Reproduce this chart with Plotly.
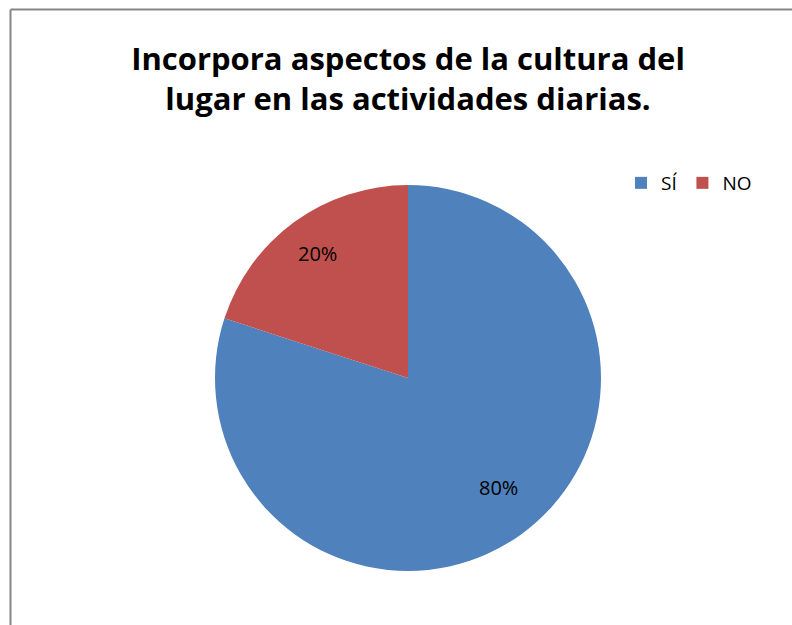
import math
import plotly.graph_objects as go

# Data
labels = ["SÍ", "NO"]
values = [80, 20]
colors = ["#4F81BD", "#C0504D"]

W, H = 792, 625
# pie placement (pixels)
cx, cy, r = 408, 378, 193

fig = go.Figure()

fig.add_trace(go.Pie(
    labels=labels,
    values=values,
    marker=dict(colors=colors, line=dict(color="white", width=0)),
    sort=False,
    direction="clockwise",
    rotation=0,
    textinfo="none",
    domain=dict(x=[(cx - r) / W, (cx + r) / W], y=[(H - cy - r) / H, (H - cy + r) / H]),
    hoverinfo="label+percent",
))

# percent labels placed at 0.8 of the radius, at each slice's mid angle
total = sum(values)
annotations = []
cum = 0
for v in values:
    theta = 2 * math.pi * (cum + v / 2) / total
    px = cx + 0.8 * r * math.sin(theta)
    py = cy - 0.8 * r * math.cos(theta)
    annotations.append(dict(
        x=px / W, y=(H - py) / H, xref="paper", yref="paper",
        text=f"{round(100 * v / total)}%", showarrow=False,
        font=dict(family="Open Sans", size=20, color="black"),
    ))
    cum += v

fig.update_layout(
    width=W,
    height=H,
    margin=dict(l=0, r=0, t=0, b=0),
    paper_bgcolor="white",
    plot_bgcolor="white",
    title=dict(
        text="Incorpora aspectos de la cultura del<br>lugar en las actividades diarias.",
        x=408 / W,
        xanchor="center",
        y=(H - 70) / H,
        yanchor="middle",
        font=dict(family="Open Sans", size=31, color="black", weight="bold"),
    ),
    legend=dict(
        orientation="h",
        x=621 / W,
        xanchor="left",
        y=(H - 183) / H,
        yanchor="middle",
        font=dict(family="Open Sans", size=19, color="black"),
        bgcolor="rgba(0,0,0,0)",
        itemwidth=30,
        tracegroupgap=0,
    ),
    annotations=annotations,
    shapes=[
        dict(type="line", xref="paper", yref="paper",
             x0=10.5 / W, x1=10.5 / W, y0=0, y1=(H - 9.5) / H,
             line=dict(color="#868686", width=2)),
        dict(type="line", xref="paper", yref="paper",
             x0=10.5 / W, x1=1, y0=(H - 9.5) / H, y1=(H - 9.5) / H,
             line=dict(color="#868686", width=2)),
    ],
)

fig.write_html(
    "out.html",
    config={"displayModeBar": False},
    post_script="document.body.style.margin='0';document.body.style.overflow='hidden';",
)
